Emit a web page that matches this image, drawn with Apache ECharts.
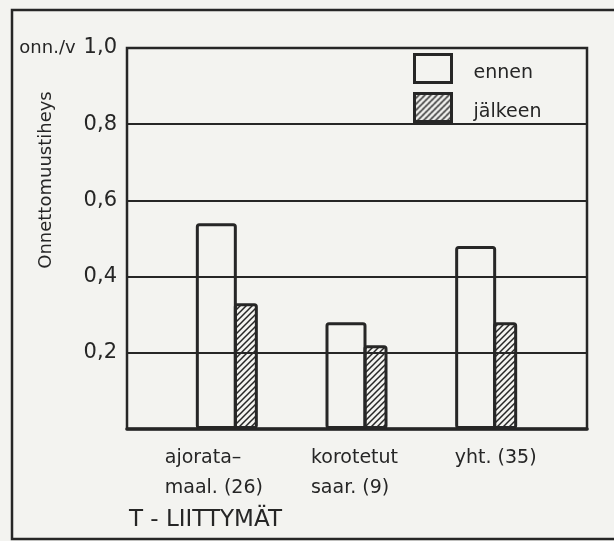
<!DOCTYPE html>
<html>
<head>
<meta charset="utf-8">
<script src="https://cdn.jsdelivr.net/npm/echarts@6/dist/echarts.min.js"></script>
<style>
  html, body { margin: 0; padding: 0; background: #f3f3f0; }
  #chart { width: 614px; height: 541px; }
</style>
</head>
<body>
<div id="chart"></div>
<script>
// Accident rate per junction type, before and after the measure
const categories = ['ajorata–\nmaal. (26)', 'korotetut\nsaar. (9)', 'yht. (35)'];
const ennen = [0.54, 0.28, 0.48];
const jalkeen = [0.33, 0.22, 0.28];
const seriesNames = ['ennen', 'jälkeen'];
const yTicks = [0, 0.2, 0.4, 0.6, 0.8, 1.0];
const yTickLabels = ['', '0,2', '0,4', '0,6', '0,8', '1,0'];
const yUnit = 'onn./v';
const yTitle = 'Onnettomuustiheys';
const footTitle = 'T - LIITTYMÄT';

const INK = '#262626';
const FONT = '"DejaVu Sans", sans-serif';

// diagonal hatch fill for the "after" bars
function hatchPattern() {
  const s = 6;
  const c = document.createElement('canvas');
  c.width = s; c.height = s;
  const g = c.getContext('2d');
  g.strokeStyle = INK;
  g.lineWidth = 1.5;
  g.beginPath();
  g.moveTo(-1, s + 1); g.lineTo(s + 1, -1);
  g.moveTo(-1, 1); g.lineTo(1, -1);
  g.moveTo(s - 1, s + 1); g.lineTo(s + 1, s - 1);
  g.stroke();
  return c;
}

const chart = echarts.init(document.getElementById('chart'), null, { renderer: 'canvas' });

const tickStep = yTicks[1] - yTicks[0];
const yMin = yTicks[0];
const yMax = yTicks[yTicks.length - 1];

function yLabel(v) {
  const i = yTicks.findIndex(t => Math.abs(t - v) < 1e-9);
  const txt = i >= 0 ? yTickLabels[i] : '';
  if (i === yTicks.length - 1) return '{u|' + yUnit + '}{n|' + txt + '}';
  return txt ? '{n|' + txt + '}' : '';
}

// per-category text blocks: lines left-aligned, shifted by padding
const labelPads = [[0, 26, 0, 0], [0, 4, 0, 0], [0, 0, 0, 19]];
const catRich = {};
labelPads.forEach((p, i) => {
  catRich['c' + i] = {
    align: 'left', padding: p, fontFamily: FONT, fontSize: 19,
    color: INK, lineHeight: 30
  };
});

const option = {
  backgroundColor: '#f3f3f0',
  animation: false,
  title: {
    text: footTitle,
    left: 129, top: 509, padding: 0,
    textStyle: { fontFamily: FONT, fontSize: 23, fontWeight: 'normal', color: INK }
  },
  legend: {
    data: seriesNames,
    orient: 'vertical',
    left: 413, top: 53, padding: 0,
    itemWidth: 37, itemHeight: 28, itemGap: 8,
    icon: 'rect',
    itemStyle: { borderColor: INK, borderWidth: 3 },
    formatter: name => '{t|' + name + '}',
    textStyle: {
      fontFamily: FONT, fontSize: 19, color: INK,
      rich: { t: { fontFamily: FONT, fontSize: 19, color: INK, padding: [10, 0, 0, 17] } }
    }
  },
  grid: [
    { left: 127, right: 27, top: 48, bottom: 112, show: true, borderColor: INK, borderWidth: 2.5 },
    { left: 162, right: 63, top: 48, bottom: 112 }
  ],
  xAxis: [
    {
      gridIndex: 0, type: 'value', min: 0, max: 1,
      axisLine: { show: true, onZero: false, lineStyle: { color: INK, width: 3.5 } },
      axisTick: { show: false }, axisLabel: { show: false }, splitLine: { show: false }
    },
    {
      gridIndex: 1, type: 'category', data: categories,
      axisLine: { show: false }, axisTick: { show: false },
      axisLabel: {
        interval: 0, margin: 14,
        formatter: (value, idx) => value.split('\n').map(l => '{c' + idx + '|' + l + '}').join('\n'),
        rich: catRich
      }
    }
  ],
  yAxis: [
    {
      gridIndex: 0, type: 'value', min: yMin, max: yMax, interval: tickStep,
      axisLine: { show: false }, axisTick: { show: false },
      splitLine: { show: true, lineStyle: { color: INK, width: 2 } },
      axisLabel: {
        margin: 10, formatter: yLabel,
        rich: {
          u: { fontFamily: FONT, fontSize: 18, color: INK, padding: [0, 8, 0, 0] },
          n: { fontFamily: FONT, fontSize: 21, color: INK }
        }
      }
    },
    {
      gridIndex: 1, type: 'value', min: yMin, max: yMax, interval: tickStep,
      show: false
    }
  ],
  graphic: [
    {
      type: 'rect', z: -1, silent: true,
      shape: { x: 12, y: 10, width: 700, height: 529 },
      style: { fill: 'none', stroke: INK, lineWidth: 2.5 }
    },
    {
      type: 'text', x: 46, y: 180, rotation: Math.PI / 2, silent: true,
      style: {
        text: yTitle, fill: INK, font: '18px ' + FONT,
        textAlign: 'center', textVerticalAlign: 'middle'
      }
    }
  ],
  series: [
    {
      name: seriesNames[0], type: 'bar', xAxisIndex: 1, yAxisIndex: 1,
      data: ennen, barWidth: 41, barGap: '-7.3%',
      itemStyle: { color: 'rgba(0,0,0,0)', borderColor: INK, borderWidth: 3, borderRadius: 2 }
    },
    {
      name: seriesNames[1], type: 'bar', xAxisIndex: 1, yAxisIndex: 1,
      data: jalkeen, barWidth: 24, barGap: '-7.3%',
      itemStyle: {
        color: { image: hatchPattern(), repeat: 'repeat' },
        borderColor: INK, borderWidth: 3, borderRadius: 2
      }
    }
  ]
};

chart.setOption(option);
</script>
</body>
</html>
